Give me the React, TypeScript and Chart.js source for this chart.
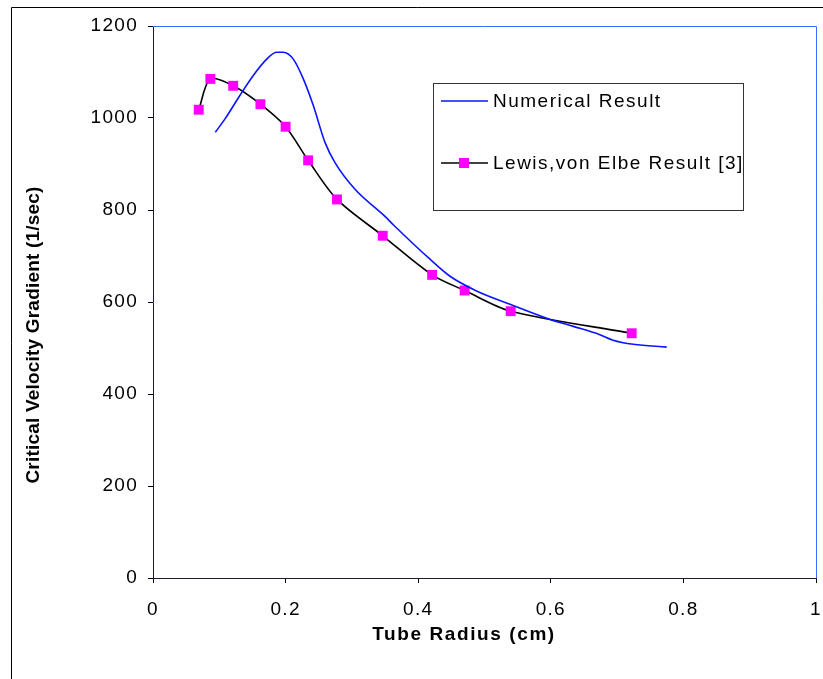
import React, { useEffect, useRef } from 'react';
import { Chart, registerables } from 'chart.js';

Chart.register(...registerables);

// Numerical Result (blue line)
const numericalX = [0.094, 0.1086, 0.131, 0.151, 0.1715, 0.1866, 0.1966, 0.2116, 0.2267, 0.2418, 0.2594, 0.2745, 0.3047, 0.3499, 0.3624, 0.4178, 0.448, 0.488, 0.5385, 0.599, 0.634, 0.674, 0.694, 0.7245, 0.7748];
const numericalY = [969, 998, 1049, 1092, 1128, 1143, 1143, 1128, 1085, 1027, 947, 903, 845, 786, 768, 693, 656, 624, 595, 562, 547, 529, 517, 508, 502];

// Lewis, von Elbe Result [3] (black line + magenta squares)
const lewisX = [0.069, 0.0865, 0.121, 0.162, 0.2, 0.234, 0.2775, 0.3465, 0.421, 0.47, 0.5395, 0.722];
const lewisY = [1018, 1085, 1070, 1030, 981, 908, 823, 744, 659, 625, 580, 532];

const seriesNames = ['Numerical Result', 'Lewis,von Elbe Result [3]'];
const xTitle = 'Tube Radius (cm)';
const yTitle = 'Critical Velocity Gradient (1/sec)';

const FONT = '"Liberation Sans", Arial, sans-serif';

const decorPlugin = {
  id: 'decor',
  beforeDraw(chart: any) {
    const ctx = chart.ctx;
    ctx.fillStyle = '#ffffff';
    ctx.fillRect(0, 0, chart.width, chart.height);
    (ctx as any).letterSpacing = '1.3px';
  },
  beforeDatasetsDraw(chart: any) {
    const { ctx, chartArea: a } = chart;
    ctx.save();
    ctx.strokeStyle = '#3a6cff';
    ctx.lineWidth = 1;
    ctx.beginPath();
    ctx.moveTo(a.left, Math.round(a.top) + 0.5);
    ctx.lineTo(Math.round(a.right) + 0.5, Math.round(a.top) + 0.5);
    ctx.lineTo(Math.round(a.right) + 0.5, a.bottom);
    ctx.stroke();
    ctx.restore();
  },
  afterDraw(chart: any) {
    const ctx = chart.ctx;
    const ds = chart.data.datasets;
    ctx.save();
    // outer frame
    ctx.strokeStyle = '#000';
    ctx.lineWidth = 1;
    ctx.beginPath();
    ctx.moveTo(11.5, chart.height);
    ctx.lineTo(11.5, 7.5);
    ctx.lineTo(chart.width, 7.5);
    ctx.stroke();

    // y title
    ctx.save();
    (ctx as any).letterSpacing = '0.2px';
    ctx.translate(34, 335);
    ctx.rotate(-Math.PI / 2);
    ctx.fillStyle = '#000';
    ctx.font = 'bold 19px ' + FONT;
    ctx.textAlign = 'center';
    ctx.textBaseline = 'middle';
    ctx.fillText(yTitle, 0, 0);
    ctx.restore();

    // x title
    (ctx as any).letterSpacing = '1.6px';
    ctx.fillStyle = '#000';
    ctx.font = 'bold 19px ' + FONT;
    ctx.textAlign = 'center';
    ctx.textBaseline = 'middle';
    ctx.fillText(xTitle, 464, 635);

    // legend
    ctx.strokeStyle = '#333';
    ctx.lineWidth = 1;
    ctx.strokeRect(433.5, 83.5, 310, 127);
    (ctx as any).letterSpacing = '1.5px';
    ctx.font = '19px ' + FONT;
    ctx.textAlign = 'left';
    const rows = [101, 163];
    ds.forEach((d: any, i: number) => {
      const y = rows[i];
      ctx.strokeStyle = d.borderColor;
      ctx.lineWidth = 1.5;
      ctx.beginPath();
      ctx.moveTo(441, y);
      ctx.lineTo(488, y);
      ctx.stroke();
      if (d.pointRadius > 0) {
        ctx.fillStyle = d.pointBackgroundColor;
        ctx.fillRect(459, y - 5, 10, 10);
      }
      ctx.fillStyle = '#000';
      ctx.fillText(d.label, 493, y + 1);
    });
    ctx.restore();
    (ctx as any).letterSpacing = '0px';
  },
};

export default function App() {
  const ref = useRef<HTMLCanvasElement>(null);
  useEffect(() => {
    if (!ref.current) return;
    const chart = new Chart(ref.current, {
      type: 'line',
      data: {
        datasets: [
          {
            label: seriesNames[0],
            data: numericalX.map((x, i) => ({ x, y: numericalY[i] })),
            borderColor: '#0a14ff',
            backgroundColor: '#0a14ff',
            borderWidth: 1.6,
            pointRadius: 0,
            pointHoverRadius: 0,
            cubicInterpolationMode: 'monotone',
            fill: false,
          },
          {
            label: seriesNames[1],
            data: lewisX.map((x, i) => ({ x, y: lewisY[i] })),
            borderColor: '#000000',
            backgroundColor: '#ff00ff',
            borderWidth: 1.6,
            pointStyle: 'rect',
            pointRadius: 7,
            pointBackgroundColor: '#ff00ff',
            pointBorderColor: '#ff00ff',
            pointBorderWidth: 0,
            tension: 0.3,
            fill: false,
          },
        ],
      },
      options: {
        responsive: false,
        animation: false,
        events: [],
        layout: { padding: { left: 0, top: 26, right: 7, bottom: 0 } },
        plugins: { legend: { display: false }, tooltip: { enabled: false }, title: { display: false } },
        scales: {
          x: {
            type: 'linear',
            min: 0,
            max: 1,
            afterFit: (s: any) => { s.height = 101; s.paddingLeft = 0; s.paddingRight = 0; },
            ticks: {
              stepSize: 0.2,
              color: '#000',
              font: { size: 19, family: FONT },
              padding: 15,
              maxRotation: 0,
              callback: (v: any) => String(Math.round(Number(v) * 10) / 10),
            },
            grid: { display: true, drawOnChartArea: false, drawTicks: true, tickLength: 5, color: '#000' },
            border: { display: true, color: '#1a1a3a', width: 1 },
          },
          y: {
            type: 'linear',
            min: 0,
            max: 1200,
            afterFit: (s: any) => { s.width = 153; s.paddingTop = 0; s.paddingBottom = 0; },
            ticks: {
              stepSize: 200,
              color: '#000',
              font: { size: 19, family: FONT },
              padding: 10,
              callback: (v: any) => String(v),
            },
            grid: { display: true, drawOnChartArea: false, drawTicks: true, tickLength: 5, color: '#000' },
            border: { display: true, color: '#1a1a3a', width: 1 },
          },
        },
      },
      plugins: [decorPlugin],
    });
    return () => chart.destroy();
  }, []);
  return (
    <div style={{ position: 'absolute', left: 0, top: 0, width: 823, height: 679, background: '#fff' }}>
      <canvas ref={ref} width={823} height={679} style={{ display: 'block' }} />
    </div>
  );
}
